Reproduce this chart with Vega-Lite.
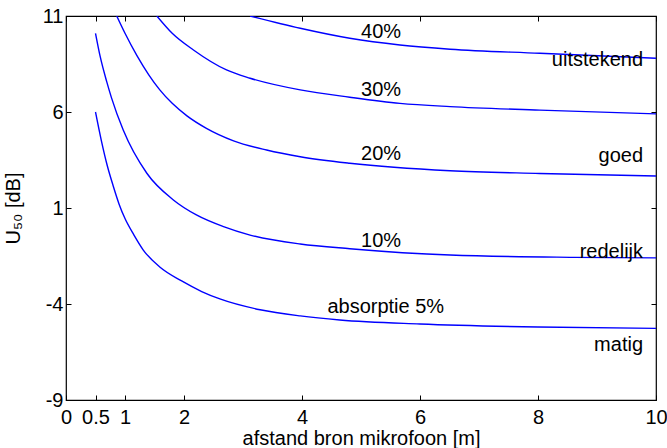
{
  "$schema": "https://vega.github.io/schema/vega-lite/v6.json",
  "width": 590,
  "height": 384,
  "autosize": "none",
  "padding": {"left": 66, "top": 16, "right": 11, "bottom": 48},
  "config": {
    "view": {"stroke": "black", "strokeWidth": 1.2},
    "font": "Liberation Sans",
    "axis": {"grid": false, "domainColor": "black", "tickColor": "black", "tickWidth": 1, "labelColor": "black", "titleColor": "black", "labelFont": "Liberation Sans", "titleFont": "Liberation Sans", "labelFontSize": 20, "titleFontSize": 20, "titleFontWeight": "normal"}
  },
  "datasets": {
    "curves": [
      {"s": "5", "x": 0.5, "y": 6.0}, {"s": "5", "x": 0.6, "y": 4.5}, {"s": "5", "x": 0.7, "y": 3.2}, {"s": "5", "x": 0.8, "y": 2.15}, {"s": "5", "x": 0.9, "y": 1.2}, {"s": "5", "x": 1.0, "y": 0.45}, {"s": "5", "x": 1.15, "y": -0.4}, {"s": "5", "x": 1.31, "y": -1.19}, {"s": "5", "x": 1.6, "y": -2.1}, {"s": "5", "x": 1.96, "y": -2.8}, {"s": "5", "x": 2.3, "y": -3.35}, {"s": "5", "x": 2.62, "y": -3.75}, {"s": "5", "x": 3.29, "y": -4.3}, {"s": "5", "x": 3.97, "y": -4.62}, {"s": "5", "x": 4.64, "y": -4.83}, {"s": "5", "x": 6.0, "y": -5.04}, {"s": "5", "x": 8.0, "y": -5.2}, {"s": "5", "x": 10, "y": -5.27},
      {"s": "10", "x": 0.5, "y": 10.1}, {"s": "10", "x": 0.58, "y": 8.88}, {"s": "10", "x": 0.69, "y": 7.58}, {"s": "10", "x": 0.77, "y": 6.75}, {"s": "10", "x": 0.97, "y": 5.06}, {"s": "10", "x": 1.37, "y": 2.81}, {"s": "10", "x": 1.82, "y": 1.42}, {"s": "10", "x": 2.21, "y": 0.64}, {"s": "10", "x": 2.67, "y": 0.03}, {"s": "10", "x": 3.12, "y": -0.41}, {"s": "10", "x": 3.97, "y": -0.875}, {"s": "10", "x": 4.81, "y": -1.12}, {"s": "10", "x": 6.51, "y": -1.45}, {"s": "10", "x": 8.6, "y": -1.57}, {"s": "10", "x": 10, "y": -1.6},
      {"s": "20", "x": 0.86, "y": 11}, {"s": "20", "x": 1.0, "y": 10.1}, {"s": "20", "x": 1.2, "y": 8.95}, {"s": "20", "x": 1.4, "y": 7.95}, {"s": "20", "x": 1.59, "y": 7.15}, {"s": "20", "x": 1.8, "y": 6.45}, {"s": "20", "x": 2.05, "y": 5.8}, {"s": "20", "x": 2.38, "y": 5.15}, {"s": "20", "x": 2.84, "y": 4.5}, {"s": "20", "x": 3.4, "y": 4.02}, {"s": "20", "x": 3.97, "y": 3.67}, {"s": "20", "x": 4.81, "y": 3.33}, {"s": "20", "x": 6.51, "y": 2.94}, {"s": "20", "x": 8.03, "y": 2.8}, {"s": "20", "x": 10, "y": 2.67},
      {"s": "30", "x": 1.54, "y": 11}, {"s": "30", "x": 1.8, "y": 10.1}, {"s": "30", "x": 2.16, "y": 9.23}, {"s": "30", "x": 2.72, "y": 8.19}, {"s": "30", "x": 3.12, "y": 7.76}, {"s": "30", "x": 3.97, "y": 7.15}, {"s": "30", "x": 4.81, "y": 6.77}, {"s": "30", "x": 5.66, "y": 6.45}, {"s": "30", "x": 6.51, "y": 6.28}, {"s": "30", "x": 8.03, "y": 6.1}, {"s": "30", "x": 10, "y": 5.9},
      {"s": "40", "x": 3.12, "y": 11}, {"s": "40", "x": 3.97, "y": 10.36}, {"s": "40", "x": 4.81, "y": 9.84}, {"s": "40", "x": 5.66, "y": 9.49}, {"s": "40", "x": 6.51, "y": 9.27}, {"s": "40", "x": 8.03, "y": 9.06}, {"s": "40", "x": 10, "y": 8.8}
    ],
    "pct": [
      {"x": 5.34, "y": 10.18, "t": "40%"},
      {"x": 5.34, "y": 7.13, "t": "30%"},
      {"x": 5.34, "y": 3.81, "t": "20%"},
      {"x": 5.34, "y": -0.72, "t": "10%"},
      {"x": 5.42, "y": -4.18, "t": "absorptie 5%"}
    ],
    "cat": [
      {"x": 9.78, "y": 8.73, "t": "uitstekend"},
      {"x": 9.78, "y": 3.72, "t": "goed"},
      {"x": 9.78, "y": -1.3, "t": "redelijk"},
      {"x": 9.78, "y": -6.16, "t": "matig"}
    ]
  },
  "layer": [
    {
      "data": {"name": "curves"},
      "mark": {"type": "line", "color": "#0000ff", "strokeWidth": 1.4, "interpolate": "monotone", "clip": true},
      "encoding": {
        "x": {"field": "x", "type": "quantitative", "scale": {"domain": [0, 10], "nice": false},
          "axis": {"values": [0, 0.5, 1, 2, 4, 6, 8, 10], "labelExpr": "'' + datum.value", "tickSize": -5, "labelPadding": 12, "title": "afstand bron mikrofoon [m]", "titleX": 295, "titleY": 44, "titleBaseline": "alphabetic", "domain": false, "labelFlush": false}},
        "y": {"field": "y", "type": "quantitative", "scale": {"domain": [-9, 11], "nice": false, "zero": false},
          "axis": {"values": [-9, -4, 1, 6, 11], "labelExpr": "'' + datum.value", "tickSize": -5, "labelPadding": 8, "title": "U₅₀  [dB]", "titleX": -47, "titleY": 192, "titleBaseline": "alphabetic", "domain": false, "labelFlush": false}},
        "detail": {"field": "s"}
      }
    },
    {
      "data": {"name": "curves"},
      "mark": {"type": "point", "opacity": 0},
      "encoding": {
        "x": {"field": "x", "type": "quantitative", "axis": {"orient": "top", "values": [0, 0.5, 1, 2, 4, 6, 8, 10], "tickSize": -5, "labels": false, "title": null, "domain": false}},
        "y": {"field": "y", "type": "quantitative", "axis": {"orient": "right", "values": [-9, -4, 1, 6, 11], "tickSize": -5, "labels": false, "title": null, "domain": false}}
      }
    },
    {
      "data": {"name": "pct"},
      "mark": {"type": "text", "fontSize": 20, "align": "center", "baseline": "middle", "color": "black"},
      "encoding": {
        "x": {"field": "x", "type": "quantitative", "axis": null},
        "y": {"field": "y", "type": "quantitative", "axis": null},
        "text": {"field": "t"}
      }
    },
    {
      "data": {"name": "cat"},
      "mark": {"type": "text", "fontSize": 20, "align": "right", "baseline": "middle", "color": "black"},
      "encoding": {
        "x": {"field": "x", "type": "quantitative", "axis": null},
        "y": {"field": "y", "type": "quantitative", "axis": null},
        "text": {"field": "t"}
      }
    }
  ],
  "resolve": {"axis": {"x": "independent", "y": "independent"}}
}
